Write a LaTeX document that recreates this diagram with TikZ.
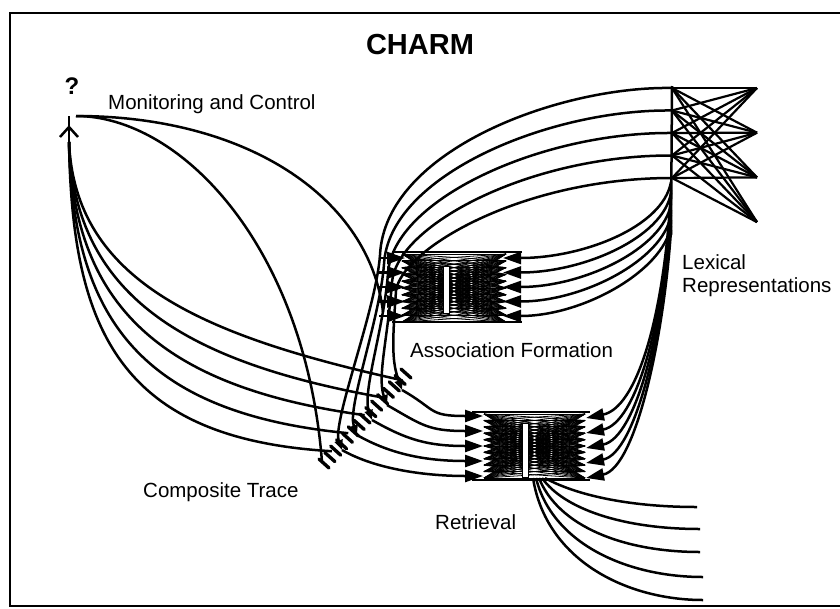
\documentclass[tikz,border=0pt]{standalone}
\usepackage{fontspec}
\setmainfont{Liberation Sans}
\usetikzlibrary{arrows.meta,calc}
\begin{document}
\begin{tikzpicture}[x=1pt,y=-1pt,
  wire/.style={line width=2.5pt},
  mesh/.style={line width=0.8pt},
  intip/.style={-{Triangle[length=18pt,width=12pt]}},
  combtip/.style={-{Triangle[length=10pt,width=8pt]}},
  lbl/.style={font=\fontsize{20.5}{23}\selectfont, inner sep=0pt, anchor=west},
  bar/.style={fill=white, draw=black, line width=1pt},
  edge/.style={line width=2pt},
  tooth/.style={line width=3.4pt, line cap=round},
]
\useasboundingbox (0,0) rectangle (840,608);
\fill[white] (0,0) rectangle (840,608);
\draw[line width=2pt] (845,13) -- (10,13) -- (10,606) -- (845,606);

% labels
\node[font=\bfseries\fontsize{29}{32}\selectfont, inner sep=0pt] (title) at (420,45) {CHARM};
\node[font=\bfseries\fontsize{24}{26}\selectfont, inner sep=0pt] (query) at (72,86) {?};
\node[lbl] (mclabel) at (108,104) {Monitoring and Control};
\node[lbl] (aflabel) at (410,350) {Association Formation};
\node[lbl, align=left] (lexlabel) at (682,276) {Lexical\\Representations};
\node[lbl] (ctlabel) at (143,492) {Composite Trace};
\node[lbl] (rtlabel) at (435,522) {Retrieval};

% named points
\coordinate (Q) at (69,142);
\coordinate (Qtop) at (69,116);
\coordinate (M) at (76,116);
\coordinate (MB) at (383,312);
\coordinate (C0) at (322,462);
\coordinate (C1) at (404,372);
\foreach \k in {0,...,4} {
  \coordinate (L\k) at (672,{88+\k*22.5});
  \coordinate (AL\k) at (405,{258+\k*14.5});
  \coordinate (AR\k) at (503,{258+\k*14.5});
  \coordinate (RL\k) at (483,{416+\k*15});
  \coordinate (RR\k) at (586,{418+\k*15});
  \coordinate (P\k) at ({380+4*\k},{255+9*\k});
  \coordinate (E\k) at ({342+15*\k},{450-15*\k});
  \coordinate (W\k) at (671,{182+11*\k});
  \coordinate (V\k) at (671,{190+10*\k});
  \coordinate (O\k) at ({545-3*\k},478);
}
\foreach \j in {0,...,3} \coordinate (T\j) at (757,{88+44.7*\j});
\foreach \k/\t in {0/0.92,1/0.72,2/0.52,3/0.32,4/0.12}
  \coordinate (F\k) at ($(C0)!\t!(C1)$);
\foreach \k/\zx/\zy in {0/697/507,1/700/529,2/700/552,3/703/577,4/703/600}
  \coordinate (Z\k) at (\zx,\zy);

% association formation mesh
\foreach \a in {0,...,10} \foreach \b in {0,...,10}
  \draw[mesh] (402,{254+6.8*\a}) -- (506,{254+6.8*\b});
\draw[edge] (392,252) -- (522,252);
\draw[edge] (392,322) -- (522,322);

% retrieval mesh
\foreach \a in {0,...,10} \foreach \b in {0,...,10}
  \draw[mesh] (484,{414+6.4*\a}) -- (585,{414+6.4*\b});
\draw[edge] (472,412) -- (590,412);
\draw[edge] (472,480) -- (590,480);

% lexical representations
\foreach \k in {0,...,4} \foreach \j in {0,...,3}
  \draw[line width=2.2pt] (L\k) -- (T\j);
\draw[wire] (672,86) -- (671,235);

% lexical -> composite trace arcs
\foreach \k in {0,...,4}
  \draw[wire, combtip] (L\k) .. controls ({560-10*\k},{86+23*\k}) and ({385+4*\k},{150+25*\k}) .. (P\k)
    .. controls ($(P\k)+(-4,55)$) and ($(E\k)+(-10,-28)$) .. (E\k);

% feeds into association formation (left)
\foreach \k in {0,...,4}
  \draw[wire, intip] ($(AL\k)+(-26,0)$) -- (AL\k);

% lexical -> association formation (right)
\foreach \k in {0,...,4}
  \draw[wire, intip] (W\k) .. controls ($(W\k)+(-8,45)$) and ($(AR\k)+(80,0)$) .. (AR\k);

% lexical -> retrieval (right)
\foreach \k in {0,...,4}
  \draw[wire, intip] (V\k) .. controls ({664},{320+4*\k}) and ($(RR\k)+(50,-10)$) .. (RR\k);

% composite trace -> retrieval (left)
\foreach \k/\j in {0/4,1/3,2/2,3/1,4/0}
  \draw[wire, intip] (E\j) .. controls ($(E\j)+(35,20)$) and ($(RL\k)+(-55,0)$) .. (RL\k);

% retrieval outputs
\foreach \k in {0,...,4}
  \draw[wire] (O\k) .. controls ({570-6*\k},{492+17*\k}) and ($(Z\k)+(-77,0)$) .. (Z\k);

% composite trace teeth
\foreach \t [evaluate=\t as \tf using \t/14] in {0,...,14}
  \draw[tooth] ($(C0)!\tf!(C1)+(-3,-3)$) -- ++(10,9);

% query feedback curves
\foreach \k in {0,...,4}
  \draw[wire] (Q) .. controls ({75-0.75*\k},{280+12.5*\k}) and ({200-20*\k},{335+26*\k}) .. (F\k);
\draw[wire] (Qtop) -- (Q);
\draw[wire] (60,137) -- (69,127) -- (78,137);

% monitoring and control
\draw[wire] (M) .. controls (180,116) and (305,245) .. (C0);
\draw[wire] (M) .. controls (250,116) and (370,200) .. (MB);

% central bars
\draw[bar] (443,266) rectangle (449,313);
\draw[bar] (522,423) rectangle (528,477);
\end{tikzpicture}
\end{document}
